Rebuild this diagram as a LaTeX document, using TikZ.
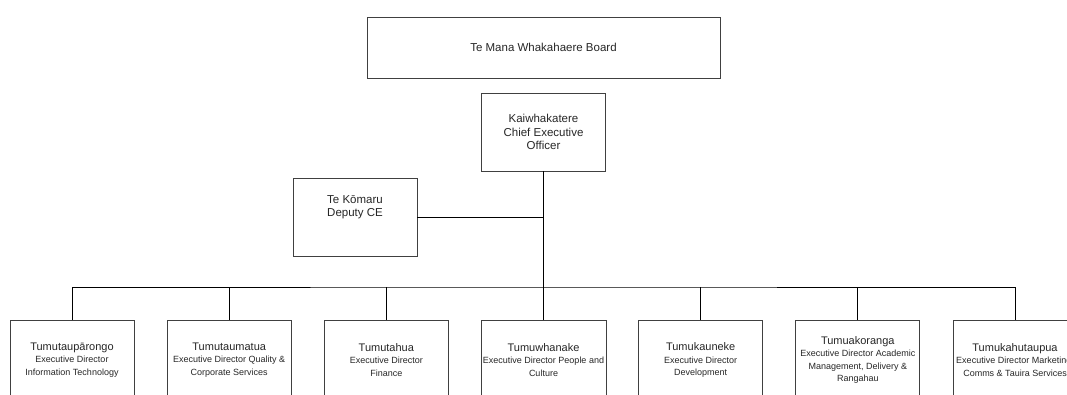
\documentclass[tikz,border=0pt]{standalone}
\usepackage{fontspec}
\setmainfont{Liberation Sans}
\usetikzlibrary{positioning}

\newcommand{\subt}[1]{{\fontsize{9}{12.5}\selectfont #1}}

\begin{document}
\begin{tikzpicture}[x=1pt, y=-1pt,
  box/.style={rectangle, draw=black!75, line width=0.8pt, minimum width=124pt, minimum height=78pt, align=center, inner sep=2pt, text=black!85},
  topbox/.style={box, font=\fontsize{11.5}{13.5}\selectfont},
  execbox/.style={box, minimum height=80pt, font=\fontsize{11}{12.5}\selectfont},
  link/.style={line width=0.8pt}
]
\useasboundingbox (0,0) rectangle (1067,394);

\node[topbox, minimum width=353pt, minimum height=61pt] (board) at (543.5,47.5) {Te Mana Whakahaere Board};
\node[topbox] (ceo) at (543.5,132) {Kaiwhakatere\\Chief Executive\\Officer};
\node[topbox, font=\fontsize{11.5}{13}\selectfont, text depth=22pt] (deputy) at (355,217) {Te Kōmaru\\Deputy CE};

\node[execbox] (it) at (72,360) {Tumutaupārongo\\\subt{Executive Director}\\\subt{Information Technology}};
\node[execbox] (quality) at (229.2,360) {Tumutaumatua\\\subt{Executive Director Quality \&}\\\subt{Corporate Services}};
\node[execbox] (finance) at (386.3,360) {Tumutahua\\\subt{Executive Director}\\\subt{Finance}};
\node[execbox] (people) at (543.5,360) {Tumuwhanake\\\subt{Executive Director People and}\\\subt{Culture}};
\node[execbox] (develop) at (700.7,360) {Tumukauneke\\\subt{Executive Director}\\\subt{Development}};
\node[execbox] (academic) at (857.8,360) {Tumuakoranga\\\subt{Executive Director Academic}\\\subt{Management, Delivery \&}\\\subt{Rangahau}};
\node[execbox] (marketing) at (1015,360) {Tumukahutaupua\\\subt{Executive Director Marketing,}\\\subt{Comms \& Tauira Services}};

\coordinate (bus) at (543.5,287);

\draw[link] (ceo.south) -- (bus);
\draw[link] (deputy.east) -- (deputy.east -| ceo.south);
\draw[link] (it.north) |- (bus) -| (marketing.north);
\draw[link] (quality.north) -- (quality.north |- bus);
\draw[link] (finance.north) -- (finance.north |- bus);
\draw[link] (people.north) -- (bus);
\draw[link] (develop.north) -- (develop.north |- bus);
\draw[link] (academic.north) -- (academic.north |- bus);
\end{tikzpicture}
\end{document}
